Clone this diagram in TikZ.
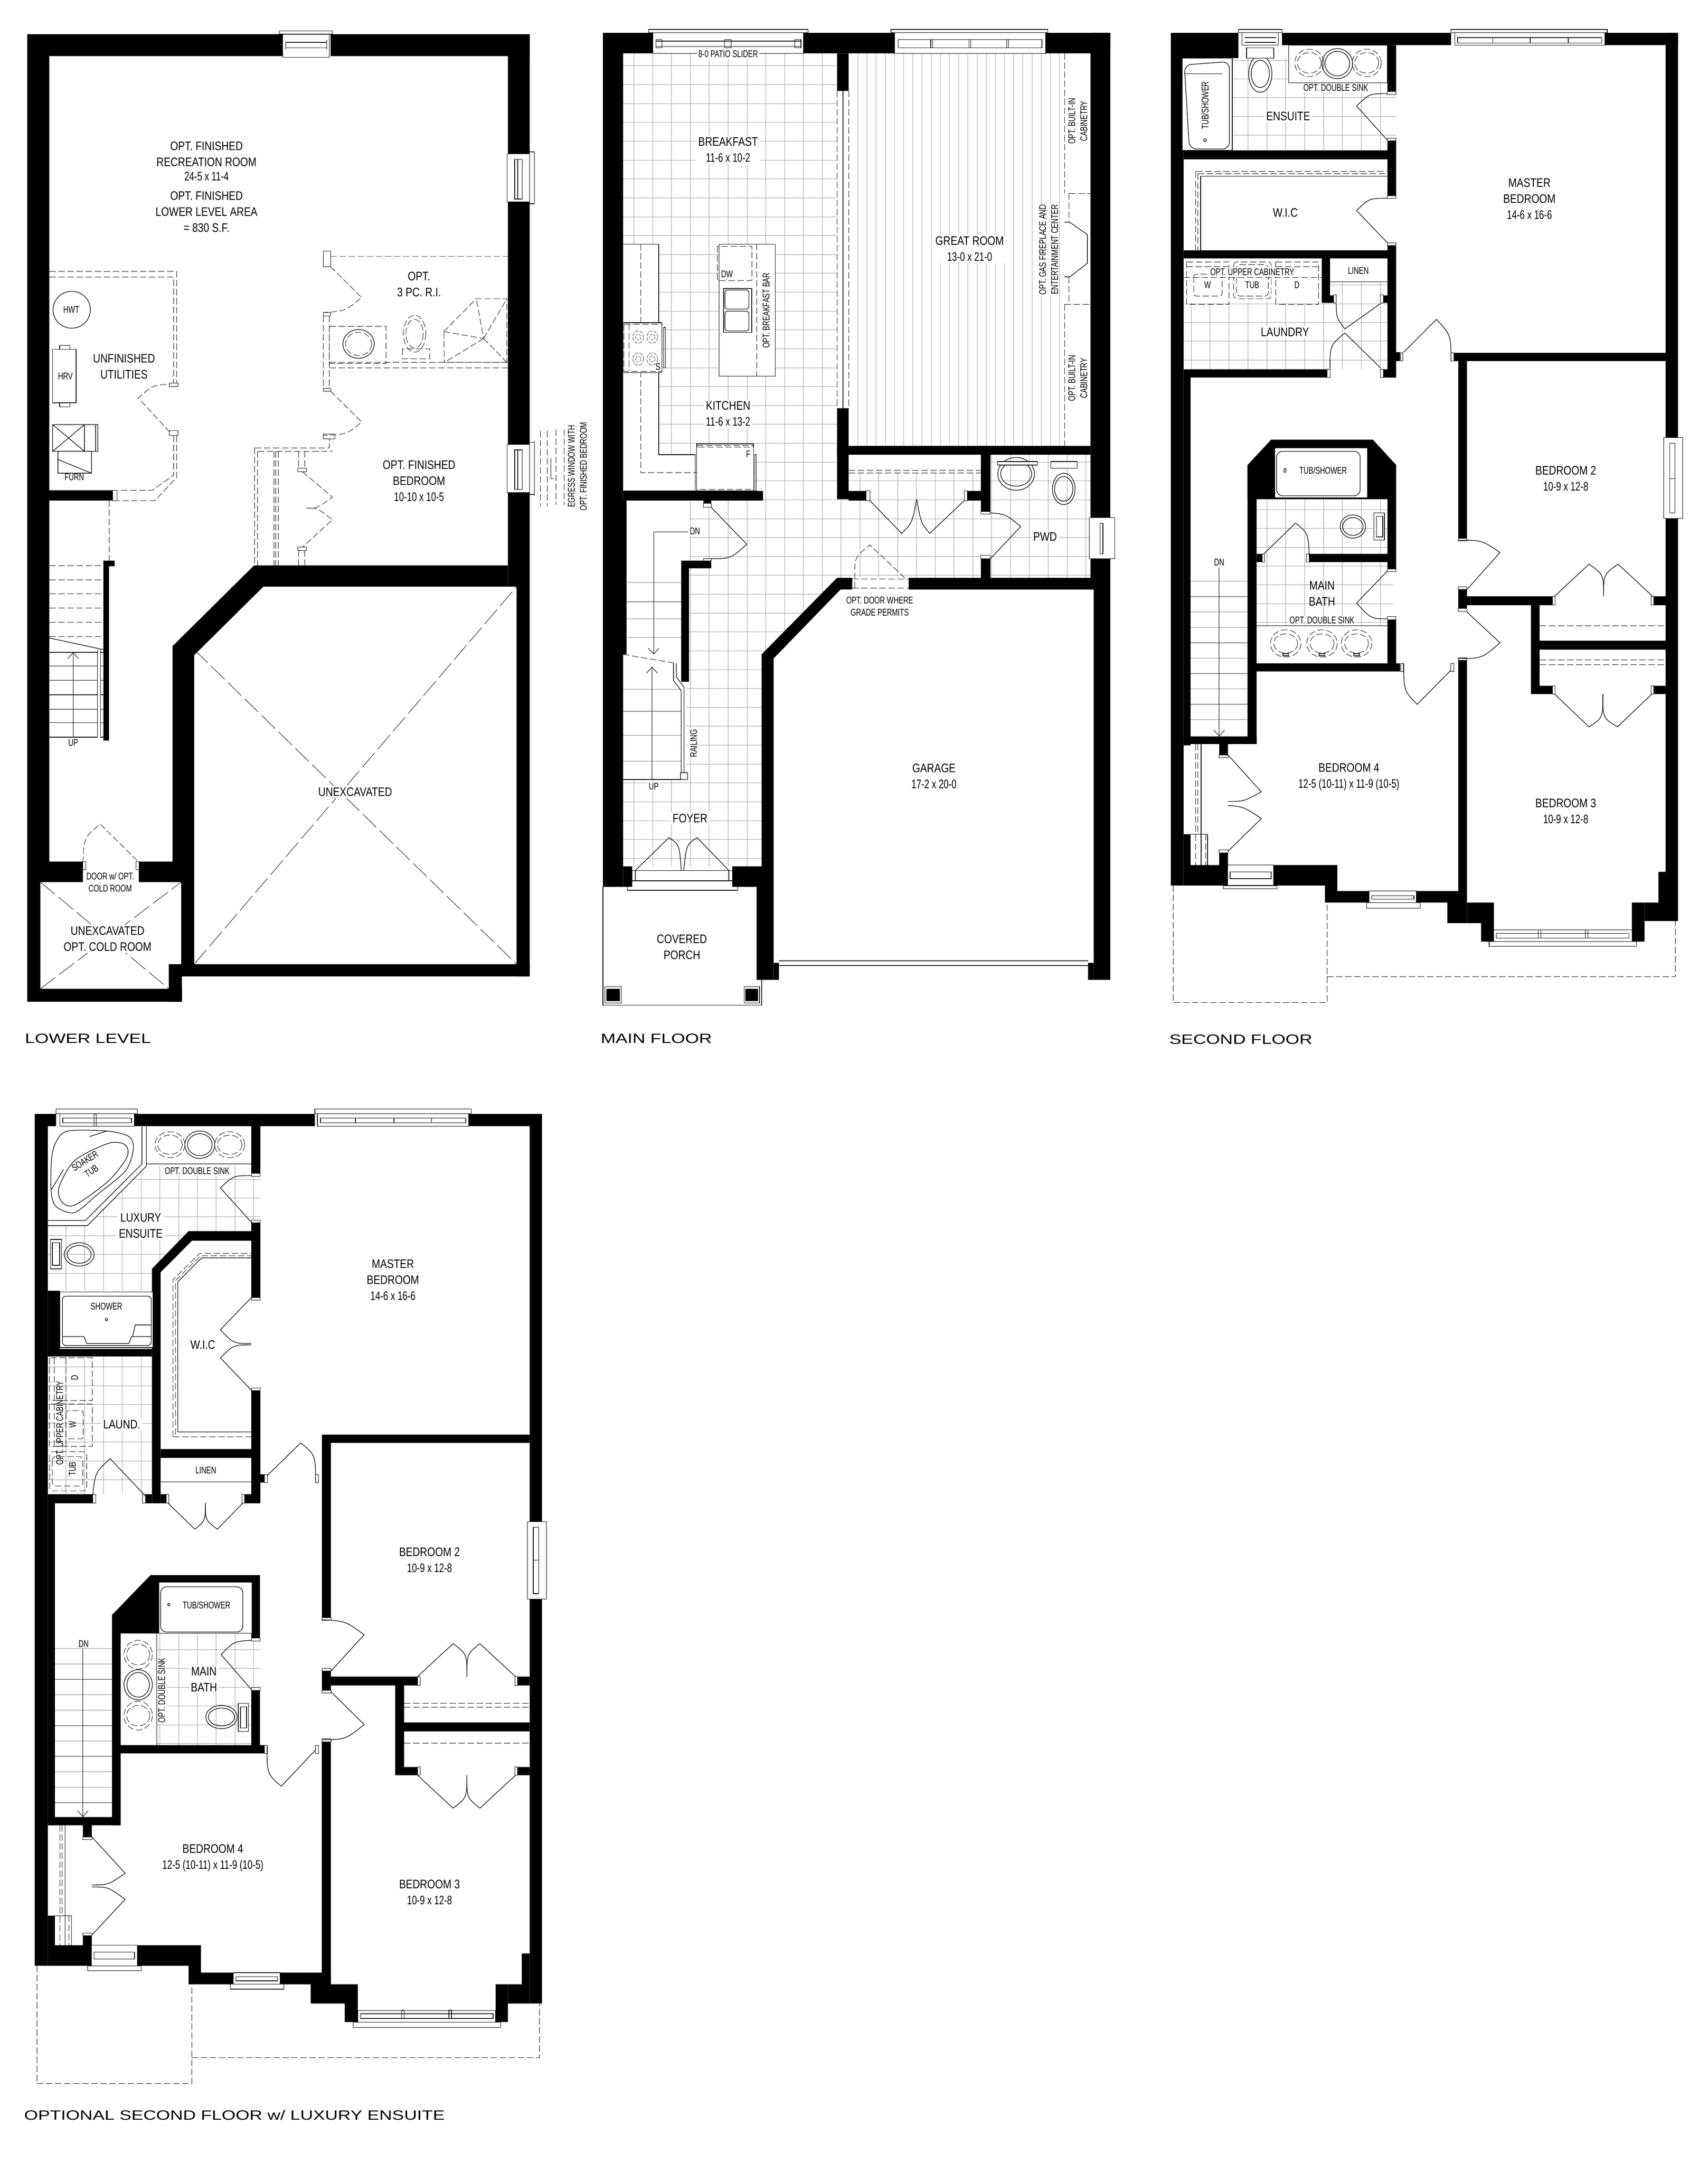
\documentclass[tikz,border=0pt]{standalone}
\usepackage{fontspec}
\usetikzlibrary{arrows.meta}
\setmainfont{Liberation Sans}
\newfontfamily\roomf[FakeStretch=0.82]{Liberation Sans}
\newfontfamily\dimf[FakeStretch=0.72]{Liberation Sans}
\newfontfamily\titlef[FakeStretch=1.32]{Liberation Sans}
\tikzset{wall/.style = {fill = black}}
\tikzset{winbox/.style = {draw, fill = white, line width = 0.4pt}}
\tikzset{jamb/.style = {draw, fill = white, line width = 0.35pt}}
\tikzset{opt/.style = {dash pattern = on 5.5pt off 2.2pt, line width = 0.35pt}}
\tikzset{xline/.style = {dash pattern = on 16pt off 4pt, line width = 0.35pt}}
\tikzset{tile/.style = {gray!80, line width = 0.3pt}}
\tikzset{wood/.style = {gray!70, line width = 0.3pt}}
\tikzset{door/.style = {line width = 0.5pt}}
\tikzset{stairarrow/.style = {-{Straight Barb[length = 5pt, width = 9pt]}, line width = 0.4pt}}
\tikzset{room/.style = {font = \roomf\fontsize{10.5}{13.6}\selectfont, align = center, fill = white, inner sep = 1.5pt}}
\tikzset{lab/.style = {font = \dimf\fontsize{8.3}{10.2}\selectfont, align = center, fill = white, inner sep = 1pt}}
\tikzset{title/.style = {font = \titlef\fontsize{11.5}{13}\selectfont, anchor = west, inner sep = 0}}
\begin{document}
\begin{tikzpicture}[line width = 0.5pt]
  \useasboundingbox (0, 0) rectangle (51, -64.58);

  % lower level
  \begin{scope}[x = 0.01116cm, y = -0.02041cm]
    \draw [xline] (520, 950) -- (1383, 1410);
    \draw [xline] (520, 1410) -- (1383, 858);
    \draw [xline] (108, 1290) -- (452, 1446);
    \draw [xline] (108, 1446) -- (485, 1290);
    \fill [wall] (73, 50) rectangle (757, 82) (885, 50) rectangle (1418, 82);
    \fill [wall] (73, 50) rectangle (132, 1290) (73, 1290) rectangle (108, 1465) (73, 1446) rectangle (487, 1465);
    \fill [wall] (132, 1260) rectangle (222, 1290) (372, 1260) rectangle (462, 1290);
    \fill [wall] (462, 945) -- (680, 827) -- (705, 827) -- (705, 858) -- (520, 958) -- (520, 1290) -- (462, 1290) -- cycle;
    \fill [wall] (485, 1290) rectangle (520, 1428) (452, 1410) rectangle (487, 1465) (485, 1410) rectangle (1418, 1428);
    \fill [wall] (1360, 50) rectangle (1418, 225) (1360, 295) rectangle (1418, 650) (1360, 720) rectangle (1418, 858);
    \fill [wall] (1383, 858) rectangle (1418, 1428) (680, 827) rectangle (1360, 858);
    \fill [wall] (132, 717) rectangle (307, 732) (277, 820) rectangle (292, 1083) (292, 820) rectangle (307, 828);
    \draw [winbox] (748, 45) rectangle (890, 50);
    \draw [winbox] (757, 50) rectangle (882, 84);
    \draw (765, 62) -- (875, 62) (765, 70) -- (875, 70) (765, 62) -- (765, 72) (875, 58) -- (875, 72);
    \foreach \wy in {225, 650} {
      \draw [winbox] (1358, \wy) rectangle (1418, \wy + 70);
      \draw (1418, \wy - 3) -- (1431, \wy - 3) -- (1431, \wy + 73) -- (1418, \wy + 73);
      \draw (1378, \wy + 8) rectangle (1398, \wy + 66) (1386, \wy + 8) -- (1386, \wy + 66);
    }
    % optional walls
    \draw [opt] (132, 397) -- (473, 397) -- (473, 560) (132, 405) -- (465, 405) -- (465, 560);
    \draw [jamb] (453, 560) rectangle (477, 565) (453, 630) rectangle (477, 637);
    \draw [opt] (455, 632) -- (370, 582) .. controls (410, 563) .. (455, 562);
    \draw [opt] (473, 637) -- (473, 698) -- (415, 732) -- (315, 732) (465, 637) -- (465, 695) -- (407, 717) -- (315, 717);
    \draw [opt] (292, 732) -- (292, 820);
    \draw [jamb] (302, 717) rectangle (313, 732);
    \draw (192, 453) ellipse [x radius = 50, y radius = 27];
    \draw (141, 511) rectangle (204, 589) (160, 505) rectangle (187, 511) (160, 589) rectangle (187, 595);
    \draw (141, 621) rectangle (262, 660) (141, 621) -- (226, 660) (141, 660) -- (226, 621) (226, 621) -- (226, 660) (256, 621) -- (256, 660);
    \draw (155, 660) rectangle (245, 692) (155, 672) -- (245, 692);
    \foreach \sy in {827, 848, 868.6, 889, 910, 931}
      \draw [opt] (132, \sy) -- (277, \sy);
    \draw (132, 933) -- (277, 950);
    \foreach \sy in {954, 974, 995, 1016, 1037, 1057, 1078}
      \draw [line width = 0.4pt] (132, \sy) -- (261, \sy) (269, \sy) -- (277, \sy);
    \draw (261, 950) -- (261, 1078) (269, 950) -- (269, 1078);
    \draw [stairarrow] (196, 1078) -- (196, 954);
    \draw [opt] (885, 375) -- (1360, 375) (885, 390) -- (968, 435) .. controls (925, 455) .. (865, 457);
    \draw [jamb] (865, 367) rectangle (885, 390) (865, 457) rectangle (885, 462);
    \draw [opt] (865, 462) -- (865, 568) (882, 462) -- (882, 568) (882, 530) -- (1360, 530) (882, 538) -- (1360, 538);
    \draw [opt] (882, 477) rectangle (1033, 532);
    \draw (960, 503) ellipse [x radius = 42, y radius = 21];
    \draw [opt] (960, 503) ellipse [x radius = 35, y radius = 17];
    \draw [opt] (1110, 488) ellipse [x radius = 30, y radius = 27];
    \draw [opt] (1110, 488) ellipse [x radius = 23, y radius = 21];
    \draw [opt] (1078, 510) rectangle (1150, 525);
    \draw [opt] (1188, 485) -- (1275, 437) -- (1357, 437) -- (1357, 530) -- (1190, 530) -- cycle;
    \draw [opt] (1188, 485) -- (1295, 495) -- (1275, 437) (1295, 495) -- (1357, 437) (1295, 495) -- (1357, 530) (1295, 495) -- (1190, 530);
    \draw [jamb] (865, 568) rectangle (885, 572) (865, 635) rectangle (897, 642);
    \draw [opt] (885, 572) -- (968, 617) .. controls (930, 635) .. (865, 637);
    \draw [opt] (682, 655) -- (882, 655) -- (882, 642) (690, 660) -- (890, 660) (682, 655) -- (682, 827) (690, 660) -- (690, 827);
    \draw [opt] (733, 660) -- (733, 827) (738, 660) -- (738, 827) (745, 660) -- (745, 827);
    \draw [opt] (800, 660) -- (800, 685) (816, 660) -- (816, 685) (800, 805) -- (800, 827) (816, 805) -- (816, 827);
    \draw [jamb] (797, 685) rectangle (820, 690) (797, 800) rectangle (820, 805);
    \draw [opt] (810, 690) -- (890, 727) .. controls (850, 743) .. (820, 743) .. controls (850, 743) .. (890, 760) -- (810, 800);
    \draw [opt] (222, 1262) .. controls (225, 1225) .. (268, 1205) -- (370, 1260);
    \draw [jamb] (222, 1260) rectangle (230, 1272) (364, 1260) rectangle (372, 1272);

    \node (lrec) at (553, 236) [room, fill = none] {OPT. FINISHED\\RECREATION ROOM\\[-1.5pt]{\dimf 24-5 x 11-4}};
    \node (larea) at (553, 310) [room, fill = none] {OPT. FINISHED\\LOWER LEVEL AREA\\= 830 S.F.};
    \node (lbath) at (1122, 416) [room, fill = none] {OPT.\\3 PC. R.I.};
    \node (lutil) at (332, 536) [room, fill = none] {UNFINISHED\\UTILITIES};
    \node (lbed) at (1122, 703) [room, fill = none] {OPT. FINISHED\\BEDROOM\\{\dimf 10-10 x 10-5}};
    \node (lunex) at (951, 1158) [room] {UNEXCAVATED};
    \node (lcold) at (288, 1373) [room] {UNEXCAVATED\\OPT. COLD ROOM};
    \node (lhwt) at (191, 453) [lab, fill = none] {HWT};
    \node (lhrv) at (175, 550) [lab, fill = none] {HRV};
    \node (lfurn) at (199, 698) [lab, fill = none] {FURN};
    \node (lup) at (196, 1086) [lab, fill = none] {UP};
    \node (ldoor) at (295, 1290) [lab, fill = none] {DOOR w/ OPT.\\COLD ROOM};
    % egress window
    \draw [opt] (1447, 630) -- (1447, 740) (1465, 630) -- (1465, 740) (1489, 628) -- (1489, 738) (1510, 628) -- (1510, 738);
    \draw (1431, 645) -- (1431, 725) (1475, 670) -- (1475, 700) -- (1483, 700);
    \node (legress) at (1546, 682) [lab, rotate = 90, fill = none] {EGRESS WINDOW WITH\\OPT. FINISHED BEDROOM};
    \node (ltitle) at (66, 1519) [title] {LOWER LEVEL};
  \end{scope}

  % main floor
  \begin{scope}[xshift = 17.5cm, x = 0.010523cm, y = -0.02041cm]
    \begin{scope}
      \clip (105, 78) -- (712, 78) -- (712, 730) -- (745, 730) -- (745, 692) -- (1120, 692) -- (1120, 748) -- (1147, 748) -- (1147, 665) -- (1431, 665) -- (1431, 845) -- (712, 845) -- (498, 957) -- (498, 1267) -- (105, 1267) -- (105, 1140) -- (285, 1140) -- (285, 990) -- (292, 990) -- (292, 732) -- (105, 732) -- cycle;
      \foreach \tx in {136, 189.4, ..., 1430}
        \draw [tile] (\tx, 0) -- (\tx, 1400);
      \foreach \ty in {68.5, 96.1, ..., 1270}
        \draw [tile] (0, \ty) -- (1500, \ty);
    \end{scope}
    \foreach \wx in {771, 797, ..., 1431}
      \draw [wood] (\wx, 78) -- (\wx, 652);
    \fill [white] (1357, 78) rectangle (1431, 652);
    % kitchen
    \draw [fill = white] (105, 357) -- (206, 357) -- (206, 665) -- (310, 665) -- (310, 718) -- (105, 718);
    \draw [opt] (155, 357) -- (155, 691) -- (479, 691);
    \draw [fill = white] (105, 472) rectangle (215, 545);
    \draw [opt] (108, 474) rectangle (215, 543) (122, 474) -- (122, 543);
    \draw (220, 479) rectangle (225, 538);
    \foreach \bx/\by in {148/493, 188/493, 148/525, 188/525} {
      \draw [line width = 0.25pt, dash pattern = on 3pt off 1pt] (\bx, \by) ellipse [x radius = 15, y radius = 9];
      \draw [line width = 0.25pt, dash pattern = on 2pt off 1pt] (\bx, \by) ellipse [x radius = 8, y radius = 4];
    }
    \draw [fill = white] (314, 649) rectangle (475, 718);
    \draw [fill = white, opt] (314, 654) rectangle (475, 716);
    \draw [opt] (314, 651) -- (475, 651);
    \draw (479, 665) rectangle (483, 718);
    \draw [fill = white] (377, 357) rectangle (537, 550);
    \draw [opt] (484, 357) -- (484, 550);
    \draw [opt] (372, 360) rectangle (470, 410);
    \draw (390, 422) rectangle (470, 486);
    \draw [rounded corners = 2pt] (394, 424) rectangle (462, 452) (394, 455) rectangle (462, 484);
    % great room wall
    \fill [white] (712, 133) rectangle (745, 597);
    \draw [opt] (712, 133) -- (712, 597) (745, 133) -- (745, 597);
    \draw (729, 133) -- (729, 597);
    \draw [opt] (1357, 78) -- (1357, 283) (1357, 445) -- (1357, 652);
    \draw [opt] (1370, 283) -- (1431, 283) (1370, 283) -- (1370, 325) (1370, 405) -- (1370, 445) (1357, 445) -- (1431, 445);
    \draw (1357, 325) -- (1372, 325) -- (1422, 343) -- (1422, 385) -- (1372, 405) -- (1357, 405);
    \draw [opt] (745, 688) -- (1120, 688) (745, 692) -- (1120, 692);
    % stairs
    \foreach \sy in {852, 880, 905, 932}
      \draw [gray] (115, \sy) -- (270, \sy);
    \draw (192, 778) -- (292, 778);
    \draw [stairarrow] (192, 778) -- (192, 957);
    \draw [opt] (105, 957) -- (255, 970);
    \foreach \sy in {1008, 1040, 1075, 1113}
      \draw [gray] (105, \sy) -- (270, \sy);
    \draw (105, 1140) -- (270, 1140);
    \draw [stairarrow] (187, 1140) -- (187, 975);
    \draw (248, 970) -- (248, 995) -- (270, 1010) -- (270, 1130) (256, 970) -- (256, 990) -- (278, 1005) -- (278, 1130) (268, 1130) rectangle (288, 1140);
    % fixtures
    \draw (1220, 693) ellipse [x radius = 52, y radius = 24] (1220, 693) ellipse [x radius = 44, y radius = 18];
    \draw [fill = white] (1167, 675) rectangle (1280, 680);
    \draw (1355, 715) ellipse [x radius = 32, y radius = 23] (1355, 715) ellipse [x radius = 26, y radius = 18];
    \draw [fill = white] (1318, 675) rectangle (1393, 685);
    \draw [opt] (755, 847) -- (915, 847) (755, 860) -- (915, 860);
    \draw [fill = white] (131, 1273) rectangle (415, 1288);
    \draw (140, 1273) -- (140, 1288) (405, 1273) -- (405, 1288);
    \draw (117, 1297) -- (117, 1302) -- (430, 1302) -- (430, 1297);
    \draw (547, 1405) -- (1424, 1405) (547, 1412) -- (1424, 1412);
    \draw (48, 1297) -- (48, 1470) -- (498, 1470) -- (498, 1433);
    % walls
    \fill [wall] (48, 48) rectangle (105, 1297) (105, 732) rectangle (115, 957) (105, 48) rectangle (190, 78);
    \fill [wall] (617, 48) rectangle (875, 78) (1303, 48) rectangle (1487, 78);
    \fill [wall] (1431, 48) rectangle (1487, 757) (1431, 817) rectangle (1487, 862) (1440, 817) rectangle (1487, 1433);
    \fill [wall] (712, 78) rectangle (745, 133) (712, 597) rectangle (745, 730);
    \fill [wall] (712, 652) rectangle (1431, 665) (1120, 665) rectangle (1147, 748) (1120, 817) rectangle (1147, 847);
    \fill [wall] (1081, 718) rectangle (1120, 732) (745, 718) rectangle (795, 732);
    \fill [wall] (105, 718) rectangle (502, 732) (333, 732) rectangle (355, 742);
    \fill [wall] (270, 820) rectangle (292, 997) (270, 820) rectangle (355, 831);
    \fill [wall] (498, 957) -- (712, 845) -- (755, 845) -- (755, 862) -- (722, 862) -- (532, 963) -- (532, 1433) -- (484, 1433) -- (484, 1297) -- (498, 1297) -- cycle;
    \fill [wall] (915, 845) rectangle (1440, 862) (415, 1267) rectangle (498, 1297) (105, 1267) rectangle (131, 1297);
    \fill [wall] (532, 1408) rectangle (547, 1433) (1424, 1408) rectangle (1440, 1433);
    \draw [line width = 0.4pt] (54, 1443) rectangle (100, 1467) (448, 1443) rectangle (492, 1467);
    \fill [wall] (58, 1446) rectangle (96, 1464) (452, 1446) rectangle (488, 1464);
    % windows
    \draw [winbox] (177, 43) rectangle (630, 48);
    \draw [winbox] (190, 48) rectangle (617, 78);
    \draw (198, 60) -- (610, 60) (198, 68) -- (610, 68) (198, 58) rectangle (215, 70) (393, 58) rectangle (412, 70) (592, 58) rectangle (610, 70);
    \draw [winbox] (865, 43) rectangle (1310, 48);
    \draw [winbox] (875, 48) rectangle (1303, 78);
    \draw (885, 58) rectangle (1293, 70);
    \foreach \wx in {980, 1088, 1195}
      \draw (\wx - 2, 58) rectangle (\wx + 3, 70);
    \draw [winbox] (1427, 757) rectangle (1500, 817);
    \draw (1458, 765) rectangle (1466, 810);
    % doors
    \draw [door] (805, 732) -- (895, 780) .. controls (925, 765) .. (938, 730);
    \draw [door] (1073, 732) -- (975, 780) .. controls (950, 765) .. (938, 730);
    \draw [door] (1147, 817) -- (1233, 770) .. controls (1190, 752) .. (1147, 750);
    \draw [door] (355, 742) -- (456, 796) .. controls (410, 817) .. (355, 817);
    \draw [door] (140, 1273) -- (235, 1225) .. controls (265, 1235) .. (270, 1273);
    \draw [door] (405, 1273) -- (315, 1225) .. controls (285, 1235) .. (277, 1273);
    \draw [door, opt] (762, 860) -- (762, 845) .. controls (762, 815) .. (805, 797) -- (908, 847);
    \draw [jamb] (795, 718) rectangle (805, 732) (1073, 718) rectangle (1081, 732);
    \draw [jamb] (1120, 748) rectangle (1147, 752) (1120, 812) rectangle (1147, 817);
    \draw [jamb] (333, 817) rectangle (355, 820) (333, 736) rectangle (355, 742);

    \node (mslider) at (403, 79) [lab] {8-0 PATIO SLIDER};
    \node (mbreak) at (403, 219) [room] {BREAKFAST\\{\dimf 11-6 x 10-2}};
    \node (mgreat) at (1088, 364) [room] {GREAT ROOM\\{\dimf 13-0 x 21-0}};
    \node (mkitchen) at (403, 605) [room] {KITCHEN\\{\dimf 11-6 x 13-2}};
    \node (mpwd) at (1302, 785) [room] {PWD};
    \node (mfoyer) at (295, 1197) [room] {FOYER};
    \node (mporch) at (272, 1385) [room] {COVERED\\PORCH};
    \node (mgarage) at (987, 1135) [room] {GARAGE\\{\dimf 17-2 x 20-0}};
    \node (mdw) at (400, 401) [lab, fill = none] {DW};
    \node (ms) at (204, 536) [lab, fill = none] {S};
    \node (mf) at (460, 664) [lab, fill = none] {F};
    \node (mbar) at (511, 454) [lab, rotate = 90, fill = none] {OPT. BREAKFAST BAR};
    \node (mcaba) at (1395, 177) [lab, rotate = 90] {OPT. BUILT-IN\\CABINETRY};
    \node (mfire) at (1312, 365) [lab, rotate = 90] {OPT. GAS FIREPLACE AND\\ENTERTAINMENT CENTER};
    \node (mcabb) at (1395, 553) [lab, rotate = 90] {OPT. BUILT-IN\\CABINETRY};
    \node (mdn) at (309, 777) [lab] {DN};
    \node (mup) at (192, 1150) [lab] {UP};
    \node (mrail) at (305, 1087) [lab, rotate = 90] {RAILING};
    \node (mgrade) at (833, 887) [lab, fill = none] {OPT. DOOR WHERE\\GRADE PERMITS};
    \node (mtitle) at (41, 1519) [title] {MAIN FLOOR};
  \end{scope}

  % second floor
  \begin{scope}[xshift = 34cm, x = 0.010842cm, y = -0.02041cm]
    \begin{scope}
      \clip (258, 85) rectangle (709, 220) (124, 443) rectangle (685, 540) (527, 412) rectangle (685, 443) (325, 730) rectangle (700, 915);
      \foreach \tx in {145, 197, ..., 700}
        \draw [tile] (\tx, 0) -- (\tx, 1000);
      \foreach \ty in {88, 115.4, ..., 920}
        \draw [tile] (0, \ty) -- (800, \ty);
    \end{scope}
    % footprint
    \draw [opt] (95, 1295) -- (95, 1466) -- (519, 1466) -- (519, 1320);
    \draw [opt] (519, 1428) -- (1478, 1428) -- (1478, 1347);
    % ensuite
    \draw [fill = white] (413, 66) rectangle (685, 121);
    \draw [opt] (470, 92) ellipse [x radius = 40, y radius = 20] (470, 92) ellipse [x radius = 33, y radius = 15];
    \draw (547, 93) ellipse [x radius = 42, y radius = 22] (547, 93) ellipse [x radius = 34, y radius = 18];
    \draw [opt] (628, 92) ellipse [x radius = 40, y radius = 20] (628, 92) ellipse [x radius = 33, y radius = 15];
    \draw [fill = white] (335, 108) ellipse [x radius = 32, y radius = 27];
    \draw (335, 108) ellipse [x radius = 25, y radius = 20];
    \draw [fill = white] (297, 70) rectangle (372, 85);
    \draw [opt] (157.6, 251) -- (684, 251) (163, 254) -- (684, 254) (157.6, 251) -- (157.6, 366) (163, 254) -- (163, 366);
    \draw (171, 366) -- (171, 258) -- (684, 258);
    % laundry
    \draw [opt] (132, 383) rectangle (249, 445) (132, 390) -- (249, 390);
    \draw [opt, rounded corners = 2pt] (152, 401) rectangle (230, 433);
    \draw [opt, rounded corners = 3pt] (262, 383) rectangle (365, 437) (270, 387) rectangle (357, 433);
    \draw [opt] (378, 383) rectangle (495, 445) (378, 390) -- (495, 390) (124, 406) -- (504, 406);
    \draw (527, 412) -- (685, 412);
    % bath
    \draw (325, 915) -- (685, 915);
    \foreach \bx in {405, 505, 600} {
      \draw [opt] (\bx, 941) ellipse [x radius = 42, y radius = 20] (\bx, 941) ellipse [x radius = 33, y radius = 14];
      \draw (\bx - 8, 956) rectangle (\bx + 8, 959);
    }
    \draw (590, 770) ellipse [x radius = 35, y radius = 17] (590, 770) ellipse [x radius = 28, y radius = 13];
    \draw [fill = white] (648, 750) rectangle (677, 790);
    \draw (655, 755) rectangle (672, 785);
    % stairs
    \foreach \sy in {850, 872.5, ..., 1065}
      \draw [gray] (143, \sy) -- (300, \sy);
    \draw [stairarrow] (222, 830) -- (222, 1077);
    \draw [opt] (157, 1088) -- (157, 1265) (163, 1088) -- (163, 1220) (185, 1220) -- (185, 1265);
    \draw (172, 1088) -- (172, 1265) (143, 1220) -- (190, 1220) -- (190, 1265);
    % closets
    \draw [opt] (1104, 915) -- (1451, 915) (1104, 965) -- (1451, 965) (1104, 972) -- (1451, 972);
    % walls
    \fill [wall] (89, 48) rectangle (124, 1295) (89, 48) rectangle (275, 85) (124, 48) rectangle (262, 85);
    \fill [wall] (395, 48) rectangle (860, 66) (1283, 48) rectangle (1485, 66);
    \fill [wall] (1451, 48) rectangle (1485, 640) (1451, 758) rectangle (1485, 1347);
    \fill [wall] (124, 220) rectangle (685, 233) (124, 366) rectangle (685, 378) (504, 378) rectangle (527, 443);
    \fill [wall] (685, 66) rectangle (709, 135) (685, 205) rectangle (709, 290) (685, 355) rectangle (709, 552);
    \fill [wall] (527, 432) rectangle (540, 443) (673, 432) rectangle (685, 443) (673, 540) rectangle (709, 552) (709, 515) rectangle (720, 528);
    \fill [wall] (124, 540) rectangle (520, 552) (124, 540) rectangle (143, 1090);
    \fill [wall] (868, 516) rectangle (1451, 528) (880, 528) rectangle (904, 790);
    \fill [wall] (880, 862) rectangle (904, 890) (904, 872) rectangle (1140, 885) (1418, 872) rectangle (1451, 885);
    \fill [wall] (1080, 885) rectangle (1104, 1015) (1104, 937) rectangle (1451, 950) (1080, 1003) rectangle (1140, 1015) (1418, 1003) rectangle (1451, 1015);
    \fill [wall] (300, 680) -- (365, 643) -- (645, 643) -- (709, 680) -- (709, 730) -- (300, 730) -- cycle;
    \fill [wall] (300, 680) rectangle (325, 1088) (685, 680) rectangle (709, 835) (685, 905) rectangle (709, 982) (325, 970) rectangle (720, 982);
    \fill [wall] (470, 810) rectangle (685, 822) (325, 810) rectangle (340, 822);
    \fill [wall] (124, 1077) rectangle (325, 1088) (222, 1088) rectangle (246, 1104);
    \fill [wall] (124, 1220) rectangle (143, 1265) (124, 1265) rectangle (245, 1295) (222, 1247) rectangle (246, 1295);
    \fill [wall] (372, 1265) rectangle (547, 1295) (513, 1265) rectangle (547, 1320) (513, 1303) rectangle (635, 1320);
    \fill [wall] (765, 1303) rectangle (904, 1320) (850, 1303) rectangle (904, 1350) (880, 965) rectangle (904, 1350);
    \fill [wall] (904, 1320) rectangle (978, 1350) (943, 1320) rectangle (978, 1377) (1358, 1320) rectangle (1393, 1377);
    \fill [wall] (1393, 1320) rectangle (1451, 1347) (1431, 1275) rectangle (1451, 1347);
    % tubs
    \draw [fill = white] (120, 85) rectangle (258, 220);
    \draw [rounded corners = 6pt] (126, 95) -- (250, 90) -- (250, 218) -- (140, 218) -- cycle;
    \draw (126, 108) -- (232, 108);
    \draw (183, 205) ellipse [x radius = 4, y radius = 2];
    \draw [fill = white] (375, 655) rectangle (630, 728);
    \draw [rounded corners = 5pt] (380, 660) rectangle (610, 725);
    \draw (403, 688) ellipse [x radius = 3, y radius = 3];
    % windows
    \draw [winbox] (275, 43) rectangle (395, 48);
    \draw [winbox] (285, 48) rectangle (385, 66);
    \draw (292, 55) -- (378, 55) (292, 62) -- (378, 62);
    \draw [winbox] (860, 43) rectangle (1290, 48);
    \draw [winbox] (870, 48) rectangle (1283, 66);
    \draw (878, 55) rectangle (1275, 63);
    \foreach \wx in {975, 1078, 1183}
      \draw (\wx, 55) -- (\wx, 63);
    \draw [winbox] (1445, 640) rectangle (1498, 758);
    \draw (1462, 648) rectangle (1476, 750) (1462, 700) -- (1476, 700);
    \draw [winbox] (233, 1295) rectangle (381, 1300);
    \draw [winbox] (245, 1265) rectangle (372, 1295);
    \draw (252, 1275) rectangle (365, 1285);
    \draw [winbox] (627, 1320) rectangle (775, 1328);
    \draw [winbox] (635, 1303) rectangle (765, 1320);
    \draw (642, 1310) rectangle (758, 1315);
    \draw [winbox] (965, 1377) rectangle (1370, 1384);
    \draw [winbox] (978, 1360) rectangle (1358, 1377);
    \draw (985, 1365) rectangle (1350, 1372) (1100, 1360) rectangle (1107, 1372) (1230, 1360) rectangle (1237, 1372);
    % door jambs
    \foreach \jx/\jy/\jw/\jh in {685/134/24/4, 685/202/24/4, 685/286/24/4, 685/355/24/4, 537/431/7/12, 666/431/8/12, 519/540/8/12, 666/540/8/12, 721/516/7/12, 860/516/8/12, 880/787/24/4, 880/858/24/4, 880/890/24/4, 880/962/24/4, 721/970/8/12, 860/970/8/12, 1140/872/7/13, 1411/872/7/13, 1140/1003/7/12, 1411/1003/7/12, 222/1104/24/4, 222/1243/24/4, 685/832/24/4, 685/902/24/4, 340/810/7/12, 462/810/8/12}
      \draw [jamb] (\jx, \jy) rectangle (\jx + \jw, \jy + \jh);
    % doors
    \draw [door] (685, 205) -- (600, 155) .. controls (635, 137) .. (685, 137);
    \draw [door] (685, 355) -- (600, 308) .. controls (635, 290) .. (685, 290);
    \draw [door] (666, 444) -- (568, 481) .. controls (545, 465) .. (544, 444);
    \draw [door] (666, 538) -- (568, 487) .. controls (527, 505) .. (527, 539);
    \draw [door] (730, 515) -- (820, 467) .. controls (860, 490) .. (860, 528);
    \draw [door] (904, 862) -- (995, 808) .. controls (945, 790) .. (880, 790);
    \draw [door] (904, 895) -- (995, 940) .. controls (945, 963) .. (880, 963);
    \draw [door] (860, 980) -- (767, 1030) .. controls (730, 1010) .. (730, 970);
    \draw [door] (685, 835) -- (600, 882) .. controls (640, 905) .. (685, 905);
    \draw [door] (345, 810) -- (432, 765) .. controls (468, 780) .. (470, 822);
    \draw [door] (246, 1104) -- (338, 1158) .. controls (290, 1172) .. (246, 1172);
    \draw [door] (246, 1245) -- (338, 1197) .. controls (290, 1180) .. (246, 1178);
    \draw [door] (1145, 872) -- (1240, 825) .. controls (1280, 840) .. (1280, 872);
    \draw [door] (1415, 872) -- (1320, 825) .. controls (1280, 840) .. (1280, 872);
    \draw [door] (1145, 1015) -- (1240, 1063) .. controls (1278, 1050) .. (1278, 1015);
    \draw [door] (1413, 1015) -- (1318, 1063) .. controls (1278, 1050) .. (1278, 1015);

    \node (sensuite) at (412, 170) [room] {ENSUITE};
    \node (swic) at (404, 311) [room] {W.I.C};
    \node (slaundry) at (403, 486) [room] {LAUNDRY};
    \node (smaster) at (1076, 291) [room] {MASTER\\BEDROOM\\{\dimf 14-6 x 16-6}};
    \node (sbedb) at (1176, 700) [room] {BEDROOM 2\\{\dimf 10-9 x 12-8}};
    \node (smain) at (505, 868) [room, fill = none] {MAIN\\BATH};
    \node (sbedd) at (579, 1136) [room] {BEDROOM 4\\{\dimf 12-5 (10-11) x 11-9 (10-5)}};
    \node (sbedc) at (1176, 1186) [room] {BEDROOM 3\\{\dimf 10-9 x 12-8}};
    \node (ssink) at (543, 128) [lab] {OPT. DOUBLE SINK};
    \node (stub) at (183, 154) [lab, rotate = 90, fill = none] {TUB/SHOWER};
    \node (supper) at (313, 398) [lab] {OPT. UPPER CABINETRY};
    \node (sw) at (190, 417) [lab, fill = none] {W};
    \node (stubl) at (313, 417) [lab, fill = none] {TUB};
    \node (sd) at (436, 417) [lab, fill = none] {D};
    \node (slinen) at (605, 396) [lab, fill = none] {LINEN};
    \node (sshower) at (508, 688) [lab, fill = none] {TUB/SHOWER};
    \node (sbsink) at (505, 907) [lab] {OPT. DOUBLE SINK};
    \node (sdn) at (222, 822) [lab] {DN};
    \node (stitle) at (84, 1520) [title] {SECOND FLOOR};
  \end{scope}

  % optional second floor
  \begin{scope}[yshift = -32.5cm, x = 0.01116cm, y = -0.02046cm]
    \begin{scope}
      \clip (128, 200) -- (234, 200) -- (392, 113) -- (697, 113) -- (697, 195) -- (673, 208) -- (505, 208) -- (407, 263) -- (407, 295) -- (128, 295) -- cycle;
      \foreach \tx in {176.4, 226.7, ..., 700}
        \draw [tile] (\tx, 0) -- (\tx, 300);
      \foreach \ty in {105, 132.4, ..., 300}
        \draw [tile] (0, \ty) -- (800, \ty);
    \end{scope}
    \begin{scope}
      \clip (128, 391) rectangle (407, 592) (323, 795) rectangle (696, 958);
      \foreach \tx in {176.4, 226.7, ..., 700}
        \draw [tile] (\tx, 300) -- (\tx, 1000);
      \foreach \ty in {406, 433.5, ..., 960}
        \draw [tile] (0, \ty) -- (800, \ty);
    \end{scope}
    % footprint
    \draw [opt] (99, 1280) -- (99, 1452) -- (513, 1452) -- (513, 1307);
    \draw [opt] (513, 1414) -- (1444, 1414) -- (1444, 1335);
    % luxury ensuite
    \draw (128, 192.5) -- (229, 192.5) -- (380, 110) -- (380, 56);
    \draw (128, 200) -- (234, 200) -- (392, 113) -- (392, 56) (392, 110) -- (673, 110);
    \draw plot [smooth cycle] coordinates {(138, 103) (150, 78) (181, 62) (286, 62) (345, 70) (357, 88) (336, 120) (260, 155) (199, 181) (150, 172) (137, 150)};
    \draw plot [smooth cycle] coordinates {(158, 144) (200, 105) (290, 80) (335, 82) (340, 100) (290, 135) (200, 170) (165, 165)};
    \draw (137, 148) -- (170, 118) (286, 62) -- (240, 70);
    \foreach \bx in {455, 615} {
      \draw [opt] (\bx, 82) ellipse [x radius = 40, y radius = 19] (\bx, 82) ellipse [x radius = 33, y radius = 14];
    }
    \draw (535, 82) ellipse [x radius = 40, y radius = 20] (535, 82) ellipse [x radius = 33, y radius = 16];
    \draw (212, 242) ellipse [x radius = 40, y radius = 17] (212, 242) ellipse [x radius = 32, y radius = 13];
    \draw [fill = white] (135, 220) rectangle (165, 263);
    \draw (140, 225) rectangle (160, 258);
    \draw [opt] (463, 508) -- (463, 279) -- (535, 240.5) -- (673, 240.5) (463, 508) -- (673, 508) (470, 505) -- (470, 280) -- (537, 244) -- (673, 244);
    \draw (476, 501) -- (476, 282) -- (540, 247) -- (673, 247) (476, 501) -- (673, 501);
    % laundry
    \draw [opt] (132.5, 393) rectangle (247, 455) (145, 393) -- (145, 455) (176, 393) -- (176, 522);
    \draw [opt] (132.5, 460) rectangle (247, 522) (145, 460) -- (145, 522);
    \draw [opt, rounded corners = 2pt] (176, 470) rectangle (223, 511);
    \draw [opt, rounded corners = 3pt] (133, 530) rectangle (232, 587) (140, 537) rectangle (222, 580);
    \draw (430, 574) -- (673, 574);
    % bath
    \fill [white] (323, 795) rectangle (420, 958);
    \draw (420, 795) -- (420, 958);
    \foreach \by in {826, 915} {
      \draw [opt] (370, \by) ellipse [x radius = 38, y radius = 21] (370, \by) ellipse [x radius = 31, y radius = 15];
    }
    \draw (370, 870) ellipse [x radius = 38, y radius = 22] (370, 870) ellipse [x radius = 30, y radius = 18];
    \draw (593, 917) ellipse [x radius = 42, y radius = 17] (593, 917) ellipse [x radius = 35, y radius = 13];
    \draw [fill = white] (638, 897) rectangle (665, 938);
    \draw (644, 902) rectangle (660, 933);
    % stairs
    \foreach \sy in {817, 839.5, ..., 1050}
      \draw [gray] (147, \sy) -- (300, \sy);
    \draw [stairarrow] (222, 817) -- (222, 1063);
    \draw [opt] (160, 1075) -- (160, 1250) (166, 1075) -- (166, 1207) (185, 1207) -- (185, 1250);
    \draw (174, 1075) -- (174, 1250) (147, 1207) -- (192, 1207) -- (192, 1250);
    \draw [opt] (1082, 897) -- (1418, 897) (1082, 903) -- (1418, 903) (1082, 955) -- (1418, 955);
    % walls
    \fill [wall] (93, 37) rectangle (128, 1280) (93, 37) rectangle (150, 55) (360, 37) rectangle (843, 55) (1255, 37) rectangle (1451, 55);
    \fill [wall] (1418, 37) rectangle (1451, 632) (1418, 745) rectangle (1451, 1335);
    \fill [wall] (673, 37) rectangle (697, 125) (673, 195) rectangle (697, 305) (673, 440) rectangle (697, 605);
    \fill [wall] (407, 263) -- (505, 208) -- (673, 208) -- (673, 222) -- (514, 222) -- (430, 268) -- (430, 605) -- (407, 605) -- cycle;
    \fill [wall] (430, 526) rectangle (673, 539) (430, 592) rectangle (445, 605) (655, 592) rectangle (697, 605) (697, 563) rectangle (708, 575);
    \fill [wall] (128, 295) rectangle (160, 391) (128, 380) rectangle (407, 391);
    \fill [wall] (128, 592) rectangle (248, 605) (390, 592) rectangle (407, 605) (128, 592) rectangle (147, 1075);
    \fill [wall] (862, 505) rectangle (1418, 517) (862, 505) rectangle (886, 775);
    \fill [wall] (300, 768) -- (403, 710) -- (696, 710) -- (696, 805) -- (673, 805) -- (673, 795) -- (323, 795) -- (323, 1075) -- (300, 1075) -- cycle;
    \fill [wall] (323, 958) rectangle (708, 970) (673, 877) rectangle (696, 970);
    \fill [wall] (128, 1063) rectangle (323, 1075) (222, 1075) rectangle (246, 1092);
    \fill [wall] (862, 850) rectangle (886, 878) (886, 858) rectangle (1118, 871) (1385, 858) rectangle (1418, 871);
    \fill [wall] (1058, 871) rectangle (1082, 1002) (1082, 925) rectangle (1418, 938) (1058, 990) rectangle (1118, 1002) (1385, 990) rectangle (1418, 1002);
    \fill [wall] (862, 952) rectangle (886, 1335);
    \fill [wall] (128, 1207) rectangle (147, 1250) (128, 1250) rectangle (245, 1280) (222, 1235) rectangle (246, 1280);
    \fill [wall] (368, 1250) rectangle (538, 1280) (505, 1250) rectangle (538, 1307) (505, 1290) rectangle (625, 1307);
    \fill [wall] (750, 1290) rectangle (886, 1307) (832, 1290) rectangle (886, 1335);
    \fill [wall] (886, 1307) rectangle (958, 1335) (923, 1307) rectangle (958, 1362) (1327, 1307) rectangle (1360, 1362);
    \fill [wall] (1360, 1307) rectangle (1418, 1335) (1397, 1262) rectangle (1418, 1335);
    % tubs
    \draw [fill = white] (160, 297) rectangle (410, 378);
    \draw [rounded corners = 3pt] (167, 303) rectangle (405, 375);
    \draw (167, 362) -- (225, 362) -- (232, 372) -- (345, 372) -- (352, 362) -- (405, 362) (355, 362) -- (362, 345) -- (405, 345);
    \draw (285, 337) ellipse [x radius = 3, y radius = 2];
    \draw [fill = white] (425, 720) rectangle (675, 795);
    \draw [rounded corners = 5pt] (430, 727) rectangle (650, 793);
    \draw (452, 753) ellipse [x radius = 3, y radius = 2];
    % windows
    \draw [winbox] (150, 30) rectangle (368, 37);
    \draw [winbox] (160, 37) rectangle (360, 55);
    \draw (168, 43) rectangle (352, 50) (252, 37) rectangle (258, 55);
    \draw [winbox] (843, 30) rectangle (1262, 37);
    \draw [winbox] (850, 37) rectangle (1255, 55);
    \draw (858, 43) rectangle (1247, 50);
    \foreach \wx in {952, 1055, 1155}
      \draw (\wx, 43) -- (\wx, 50);
    \draw [winbox] (1412, 632) rectangle (1463, 745);
    \draw (1428, 640) rectangle (1442, 737) (1428, 688) -- (1442, 688);
    \draw [winbox] (235, 1280) rectangle (378, 1287);
    \draw [winbox] (245, 1250) rectangle (368, 1280);
    \draw (252, 1260) rectangle (360, 1270);
    \draw [winbox] (617, 1307) rectangle (760, 1314);
    \draw [winbox] (625, 1290) rectangle (750, 1307);
    \draw (632, 1296) rectangle (743, 1302);
    \draw [winbox] (945, 1362) rectangle (1340, 1370);
    \draw [winbox] (958, 1345) rectangle (1327, 1362);
    \draw (965, 1350) rectangle (1320, 1357) (1075, 1345) rectangle (1082, 1357) (1202, 1345) rectangle (1209, 1357);
    % door jambs
    \foreach \jx/\jy/\jw/\jh in {673/124/24/4, 673/192/24/4, 673/305/24/4, 673/437/24/4, 248/592/8/13, 382/592/8/13, 445/592/7/13, 648/592/7/13, 708/563/8/12, 845/563/8/12, 862/772/24/4, 862/846/24/4, 862/878/24/4, 862/949/24/4, 708/958/8/12, 845/958/8/12, 1118/858/7/13, 1378/858/7/13, 1118/990/7/12, 1378/990/7/12, 222/1092/24/4, 222/1232/24/4, 673/802/24/4, 673/874/24/4}
      \draw [jamb] (\jx, \jy) rectangle (\jx + \jw, \jy + \jh);
    % doors
    \draw [door] (673, 195) -- (590, 145) .. controls (625, 127) .. (673, 127);
    \draw [door] (673, 305) -- (590, 352) .. controls (625, 372) .. (673, 372);
    \draw [door] (673, 440) -- (590, 393) .. controls (625, 374) .. (673, 374);
    \draw [door] (248, 595) .. controls (255, 560) .. (295, 540) -- (390, 595);
    \draw [door] (450, 605) -- (522, 643) .. controls (550, 630) .. (550, 605);
    \draw [door] (650, 605) -- (582, 643) .. controls (550, 630) .. (550, 605);
    \draw [door] (715, 565) -- (805, 517) .. controls (845, 535) .. (845, 575);
    \draw [door] (886, 850) -- (975, 797) .. controls (925, 777) .. (862, 775);
    \draw [door] (886, 880) -- (975, 928) .. controls (925, 950) .. (862, 950);
    \draw [door] (845, 965) -- (753, 1018) .. controls (715, 1000) .. (715, 960);
    \draw [door] (673, 877) -- (592, 826) .. controls (625, 807) .. (673, 805);
    \draw [door] (246, 1092) -- (335, 1145) .. controls (290, 1162) .. (246, 1162);
    \draw [door] (246, 1235) -- (335, 1183) .. controls (290, 1165) .. (246, 1165);
    \draw [door] (1118, 858) -- (1213, 810) .. controls (1250, 825) .. (1250, 858);
    \draw [door] (1380, 858) -- (1285, 810) .. controls (1250, 825) .. (1250, 858);
    \draw [door] (1118, 1002) -- (1213, 1050) .. controls (1250, 1035) .. (1250, 1002);
    \draw [door] (1380, 1002) -- (1285, 1050) .. controls (1250, 1035) .. (1250, 1002);

    \node (olux) at (377, 200) [room] {LUXURY\\ENSUITE};
    \node (osoak) at (236, 113) [lab, rotate = 33, fill = none] {SOAKER\\TUB};
    \node (osink) at (528, 120) [lab] {OPT. DOUBLE SINK};
    \node (oshower) at (285, 318) [lab, fill = none] {SHOWER};
    \node (owic) at (543, 374) [room, fill = none] {W.I.C};
    \node (olaund) at (326, 490) [room] {LAUND.};
    \node (ocab) at (160, 488) [lab, rotate = 90, fill = none] {OPT. UPPER CABINETRY};
    \node (od) at (200, 422) [lab, rotate = 90, fill = none] {D};
    \node (ow) at (194, 490) [lab, rotate = 90, fill = none] {W};
    \node (otub) at (194, 555) [lab, rotate = 90, fill = none] {TUB};
    \node (olinen) at (551, 557) [lab, fill = none] {LINEN};
    \node (omaster) at (1052, 279) [room] {MASTER\\BEDROOM\\{\dimf 14-6 x 16-6}};
    \node (obedb) at (1150, 688) [room] {BEDROOM 2\\{\dimf 10-9 x 12-8}};
    \node (oshw) at (553, 754) [lab, fill = none] {TUB/SHOWER};
    \node (omain) at (546, 862) [room] {MAIN\\BATH};
    \node (obsink) at (433, 878) [lab, rotate = 90] {OPT. DOUBLE SINK};
    \node (odn) at (224, 810) [lab] {DN};
    \node (obedd) at (570, 1123) [room] {BEDROOM 4\\{\dimf 12-5 (10-11) x 11-9 (10-5)}};
    \node (obedc) at (1150, 1173) [room] {BEDROOM 3\\{\dimf 10-9 x 12-8}};
    \node (otitle) at (64, 1498) [title] {OPTIONAL SECOND FLOOR w/ LUXURY ENSUITE};
  \end{scope}
\end{tikzpicture}
\end{document}
